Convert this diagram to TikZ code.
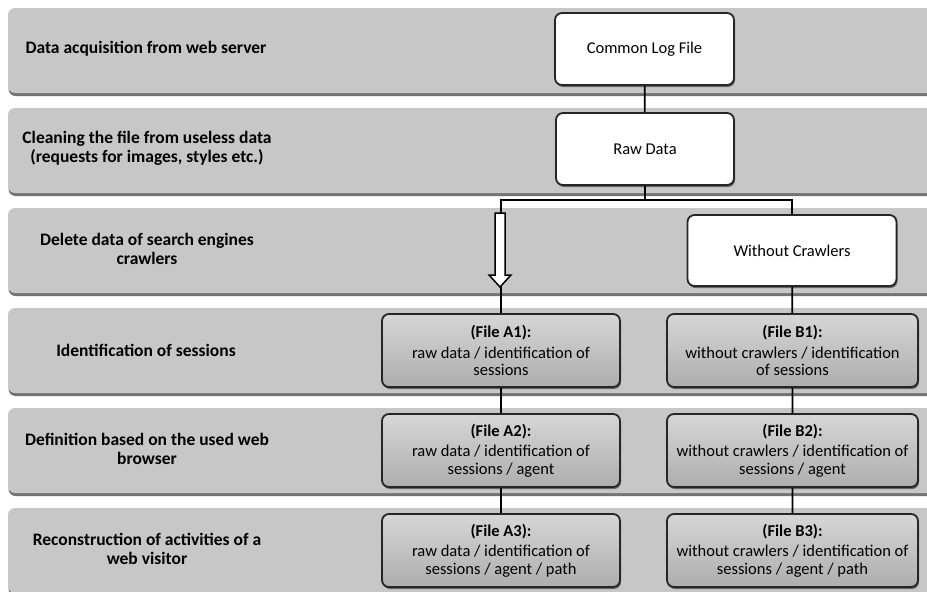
\documentclass[tikz,border=0pt]{standalone}
\usepackage{fontspec}
\setmainfont{Carlito}
\usetikzlibrary{shadows}
\begin{document}
\begin{tikzpicture}[x=1pt,y=-1pt,
	band/.style={fill=black!22,rounded corners=7pt,drop shadow={shadow xshift=0.5pt,shadow yshift=-3pt,fill=black!55,opacity=1}},
	lab/.style={align=center,font=\fontsize{17.5}{19}\selectfont\bfseries},
	box/.style={draw=black!85,line width=1.8pt,fill=white,rounded corners=7pt,minimum height=72pt,inner sep=2pt,align=center,font=\fontsize{16.5}{17.5}\selectfont,drop shadow={shadow xshift=1pt,shadow yshift=-2pt,fill=black!60,opacity=1}},
	filebox/.style={box,minimum height=73pt,top color=black!16,middle color=white,bottom color=black!32},
	link/.style={line width=1.8pt,black}]
	\useasboundingbox (0,0) rectangle (927,592);
	\clip (0,0) rectangle (927,592);
	\foreach \i in {0,...,5}
		\path[band] (8,8+100*\i) rectangle (945,93+100*\i);
	% steps
	\node[lab] (l1) at (146,49) {Data acquisition from web server};
	\node[lab] (l2) at (147,148) {Cleaning the file from useless data\\(requests for images, styles etc.)};
	\node[lab] (l3) at (147,249) {Delete data of search engines\\crawlers};
	\node[lab] (l4) at (146,350) {Identification of sessions};
	\node[lab] (l5) at (147,449) {Definition based on the used web\\browser};
	\node[lab] (l6) at (147,549) {Reconstruction of activities of a\\web visitor};
	% files
	\node[box,minimum width=179pt] (clf) at (644.5,49) {Common Log File};
	\node[box,minimum width=178pt] (raw) at (645,149) {Raw Data};
	\node[box,minimum width=209pt,minimum height=71pt] (wc) at (792,250.5) {Without Crawlers};
	\node[filebox,minimum width=238pt] (a1) at (501,350.5) {\textbf{(File A1):}\\[3pt]raw data / identification of\\sessions};
	\node[filebox,minimum width=238pt] (a2) at (501,450.5) {\textbf{(File A2):}\\[3pt]raw data / identification of\\sessions / agent};
	\node[filebox,minimum width=238pt] (a3) at (501,550.5) {\textbf{(File A3):}\\[3pt]raw data / identification of\\sessions / agent / path};
	\node[filebox,minimum width=251pt] (b1) at (792.5,350.5) {\textbf{(File B1):}\\[3pt]without crawlers / identification\\of sessions};
	\node[filebox,minimum width=251pt] (b2) at (792.5,450.5) {\textbf{(File B2):}\\[3pt]without crawlers / identification of\\sessions / agent};
	\node[filebox,minimum width=251pt] (b3) at (792.5,550.5) {\textbf{(File B3):}\\[3pt]without crawlers / identification of\\sessions / agent / path};
	% links
	\coordinate (split) at (645,200);
	\coordinate (atop) at (500,213);
	\draw[link] (clf)--(raw) (raw)--(split);
	\draw[link] (split)-|(wc.north) (wc)--(b1) (b1)--(b2) (b2)--(b3);
	\draw[link] (split)-|(a1.north) (a1)--(a2) (a2)--(a3);
	\draw[line width=1.5pt,fill=white] (atop) ++(-5,0) -- ++(10,0) -- ++(0,62) -- ++(6,0) -- ++(-11,12) -- ++(-11,-12) -- ++(6,0) -- cycle;
\end{tikzpicture}
\end{document}
